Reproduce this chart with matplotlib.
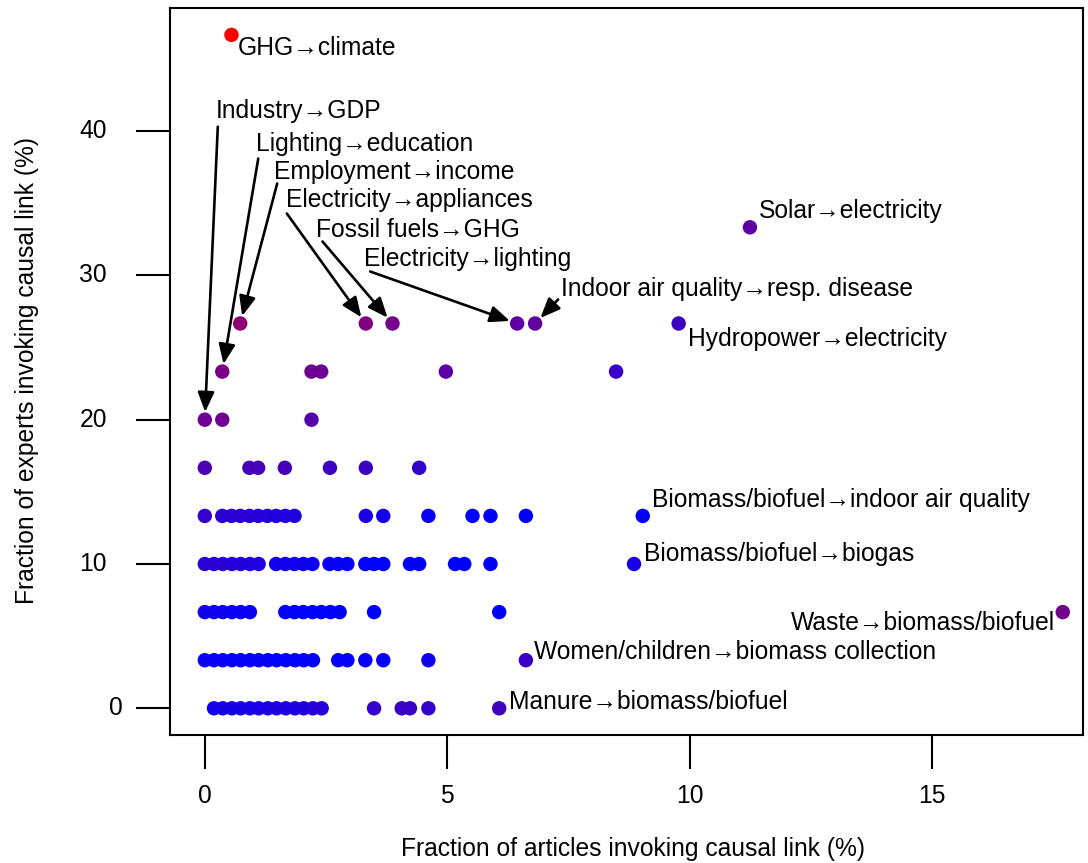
import matplotlib
matplotlib.use("Agg")
import matplotlib.pyplot as plt
from matplotlib.transforms import blended_transform_factory

plt.rcParams['font.family'] = ['Liberation Sans', 'DejaVu Sans']

# ---------------- data ----------------
# unlabeled points, grouped by expert fraction (%)
row_0_x = [0.19, 0.37, 0.56, 0.74, 0.93, 1.11, 1.30, 1.48, 1.67, 1.86, 2.04, 2.23, 2.41, 3.49, 4.06, 4.23, 4.61]
row_0_red = [0.08, 0.08, 0.09, 0.09, 0.10, 0.10, 0.11, 0.11, 0.12, 0.12, 0.13, 0.14, 0.15, 0.20, 0.22, 0.22, 0.20]
row_3_x = [0, 0.19, 0.37, 0.56, 0.74, 0.93, 1.11, 1.30, 1.48, 1.67, 1.86, 2.04, 2.23, 2.75, 2.94, 3.31, 3.68, 4.61]
row_3_red = [0.03, 0.03, 0.03, 0.02, 0.02, 0.02, 0.02, 0.02, 0.01, 0.01, 0.01, 0.01, 0.01, 0.02, 0.02, 0.03, 0.03, 0.06]
row_6_x = [0, 0.19, 0.37, 0.56, 0.74, 0.93, 1.66, 1.85, 2.03, 2.22, 2.40, 2.59, 2.78, 3.49, 6.07]
row_6_red = [0.07, 0.06, 0.06, 0.05, 0.05, 0.04, 0.01, 0.01, 0.01, 0.01, 0.0, 0.0, 0.0, 0.0, 0.0]
row_10_x = [0, 0.19, 0.37, 0.56, 0.74, 0.93, 1.11, 1.47, 1.66, 1.85, 2.03, 2.22, 2.57, 2.75, 2.94,
            3.31, 3.49, 3.68, 4.23, 4.42, 5.16, 5.35, 5.89]
row_10_red = [0.17, 0.16, 0.16, 0.15, 0.14, 0.13, 0.12, 0.08, 0.07, 0.07, 0.06, 0.05, 0.03, 0.03, 0.02,
              0.01, 0.01, 0.01, 0.0, 0.0, 0.0, 0.0, 0.0]
row_13_x = [0, 0.36, 0.55, 0.73, 0.92, 1.10, 1.29, 1.47, 1.66, 1.85, 3.32, 3.68, 4.61, 5.52, 5.89, 6.62]
row_13_red = [0.20, 0.17, 0.17, 0.16, 0.16, 0.15, 0.14, 0.13, 0.13, 0.12, 0.10, 0.08, 0.03, 0.0, 0.0, 0.0]
row_16_x = [0, 0.92, 1.10, 1.65, 2.58, 3.32, 4.42]
row_16_red = [0.30, 0.28, 0.28, 0.27, 0.24, 0.23, 0.20]
row_20_x = [0.36, 2.20]
row_20_red = [0.44, 0.33]
row_23_x = [2.20, 2.40, 4.97, 8.48]
row_23_red = [0.44, 0.41, 0.36, 0.22]

rows_y = [0, 3.333, 6.667, 10, 13.333, 16.667, 20, 23.333]
rows_x = [row_0_x, row_3_x, row_6_x, row_10_x, row_13_x, row_16_x, row_20_x, row_23_x]
rows_red = [row_0_red, row_3_red, row_6_red, row_10_red, row_13_red, row_16_red, row_20_red, row_23_red]

# labeled points
label_names = ["GHG\u2192climate", "Industry\u2192GDP", "Lighting\u2192education", "Employment\u2192income",
               "Electricity\u2192appliances", "Fossil fuels\u2192GHG", "Electricity\u2192lighting",
               "Indoor air quality\u2192resp. disease", "Solar\u2192electricity", "Hydropower\u2192electricity",
               "Biomass/biofuel\u2192indoor air quality", "Biomass/biofuel\u2192biogas",
               "Waste\u2192biomass/biofuel", "Women/children\u2192biomass collection",
               "Manure\u2192biomass/biofuel"]
label_x = [0.55, 0, 0.36, 0.73, 3.32, 3.87, 6.44, 6.81, 11.24, 9.77, 9.03, 8.85, 17.69, 6.62, 6.07]
label_y = [46.667, 20, 23.333, 26.667, 26.667, 26.667, 26.667, 26.667, 33.333, 26.667, 13.333, 10,
           6.667, 3.333, 0]
label_red = [1.0, 0.42, 0.48, 0.55, 0.50, 0.46, 0.37, 0.37, 0.37, 0.24, 0.0, 0.10, 0.45, 0.22, 0.25]

x_ticks = [0, 5, 10, 15]
y_ticks = [0, 10, 20, 30, 40]
x_label = "Fraction of articles invoking causal link (%)"
y_label = "Fraction of experts invoking causal link (%)"

# ---------------- layout (pixels) ----------------
# text offset (dx, dy) from point, arrow start offset (or None), horizontal alignment
label_layout = [
    ((6, -13), None, 'left'),
    ((11, 309), (13, 293), 'left'),
    ((34, 228), (36, 213), 'left'),
    ((34, 151), (37, 140), 'left'),
    ((-80, 123), (-79, 110), 'left'),
    ((-76, 93), (-70, 82), 'left'),
    ((-153, 64), (-147, 52), 'left'),
    ((26, 34), (23, 24), 'left'),
    ((9, 16), None, 'left'),
    ((9, -16), None, 'left'),
    ((9, 16), None, 'left'),
    ((10, 10), None, 'left'),
    ((-8, -11), None, 'right'),
    ((8, 8), None, 'left'),
    ((10, 6), None, 'left'),
]

W, H = 1088, 863
DPI = 100
fig = plt.figure(figsize=(W / DPI, H / DPI), dpi=DPI)
L, R, T, B = 170, 1083, 8, 735
ax = fig.add_axes([L / W, 1 - B / H, (R - L) / W, (B - T) / H])

x0px, xscale = 204.8, 48.5
y0px, yscale = 708.3, 14.43
ax.set_xlim((L - x0px) / xscale, (R - x0px) / xscale)
ax.set_ylim((y0px - B) / yscale, (y0px - T) / yscale)

def col(r):
    return (r, 0.0, 1.0 - r)

MS = 108
for yv, xs, reds in zip(rows_y, rows_x, rows_red):
    ax.scatter(xs, [yv] * len(xs), s=MS, c=[col(r) for r in reds], linewidths=0, zorder=3)
ax.scatter(label_x, label_y, s=MS, c=[col(r) for r in label_red], linewidths=0, zorder=3)

FS = 17.7
for name, xv, yv, (toff, aoff, ha) in zip(label_names, label_x, label_y, label_layout):
    ax.annotate(name, xy=(xv, yv), xytext=toff, textcoords='offset pixels',
                ha=ha, va='center', fontsize=FS, color='black', zorder=4)
    if aoff is not None:
        ax.annotate('', xy=(xv, yv), xytext=aoff, textcoords='offset pixels',
                    arrowprops=dict(arrowstyle='-|>,head_length=0.6,head_width=0.25',
                                    mutation_scale=20, lw=1.9, color='black',
                                    shrinkA=0, shrinkB=5.5), zorder=4)

for s in ax.spines.values():
    s.set_linewidth(1.5)

ax.set_xticks(x_ticks)
ax.set_xticklabels([str(v) for v in x_ticks], fontsize=FS)
ax.tick_params(axis='x', length=24.5, width=1.5, pad=11)

ax.set_yticks(y_ticks)
ax.set_yticklabels([])
ax.tick_params(axis='y', length=24.5, width=1.5)
ytrans = blended_transform_factory(fig.transFigure, ax.transData)
for v in y_ticks:
    xr = 107 if v != 0 else 123
    ax.text(xr / W, v, str(v), transform=ytrans, ha='right', va='center', fontsize=FS)

fig.text(633 / W, 1 - 849 / H, x_label, ha='center', va='center', fontsize=FS)
fig.text(27 / W, 1 - 371 / H, y_label, ha='center', va='center', rotation=90, fontsize=FS)

fig.savefig("out.png", dpi=DPI)
